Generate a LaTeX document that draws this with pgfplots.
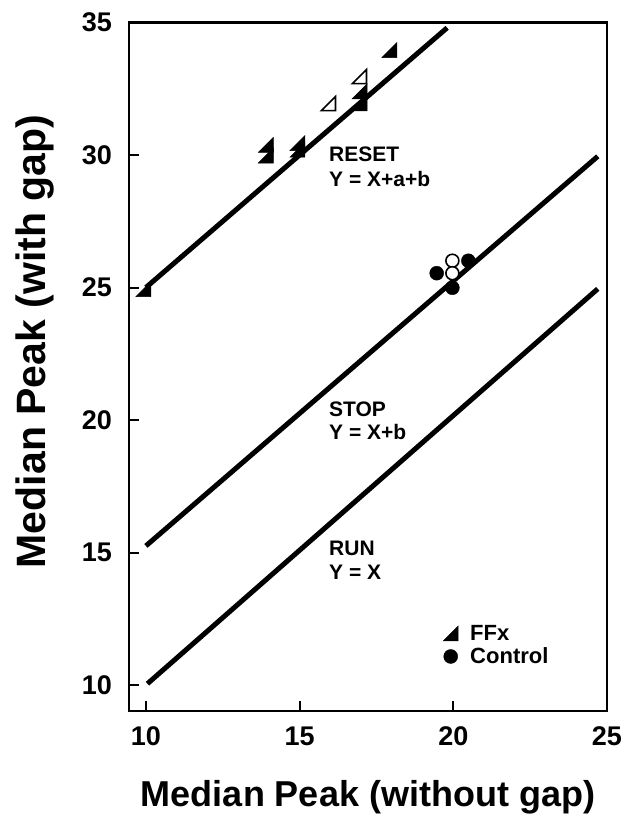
\documentclass[border=0pt]{standalone}
\usepackage{fontspec}
\setmainfont{Liberation Sans}
\usepackage{pgfplots}
\pgfplotsset{compat=1.18}
\pgfdeclareplotmark{rtri}{%
  \pgfpathmoveto{\pgfqpoint{-\pgfplotmarksize}{-\pgfplotmarksize}}%
  \pgfpathlineto{\pgfqpoint{\pgfplotmarksize}{-\pgfplotmarksize}}%
  \pgfpathlineto{\pgfqpoint{\pgfplotmarksize}{\pgfplotmarksize}}%
  \pgfpathclose\pgfusepathqfillstroke}
\begin{document}
\begin{tikzpicture}
\begin{axis}[
  scale only axis, width=478pt, height=688.5pt,
  xmin=9.45, xmax=25, ymin=9.02, ymax=35,
  xtick={10,15,20,25}, ytick={10,15,20,25,30,35},
  tick pos=left, tick align=inside,
  major tick length=10pt,
  every tick/.style={line width=2pt, black},
  axis line style={line width=2.5pt},
  /pgf/number format/assume math mode=true,
  xticklabel style={font=\fontsize{27}{27}\selectfont\bfseries, anchor=base, inner sep=0pt, yshift=-34pt},
  yticklabel style={font=\fontsize{27}{27}\selectfont\bfseries, anchor=east, inner sep=0pt, xshift=-17pt},
  xlabel={Median Peak (without gap)},
  ylabel={Median Peak (with gap)},
  xlabel style={font=\fontsize{36}{36}\selectfont\bfseries, at={(axis description cs:0.5,-0.138)}, anchor=base, inner sep=0pt},
  ylabel style={font=\fontsize{41}{41}\selectfont\bfseries, at={(axis description cs:-0.1757,0.5367)}, anchor=base, inner sep=0pt},
  legend style={draw=none, fill=none, at={(axis description cs:0.657,0.125)}, anchor=north west,
    font=\fontsize{22}{22}\selectfont\bfseries, inner sep=0pt, column sep=12pt, row sep=6pt,
    nodes={inner sep=0pt}},
  legend cell align=left,
  legend image code/.code={\draw[#1] plot coordinates {(0pt,0pt)};},
]
% reference lines
\addplot[black, line width=5pt, forget plot] coordinates {(10,25) (19.8,34.8)};
\addplot[black, line width=5pt, forget plot] coordinates {(10,15.25) (24.7,29.95)};
\addplot[black, line width=5pt, forget plot] coordinates {(10.05,10.05) (24.7,24.95)};
% FFx filled
\addplot[only marks, mark=rtri, mark size=7.5pt, mark options={fill=black, draw=black, line width=0.5pt}]
  coordinates {(9.92,24.94) (13.9,29.98) (13.9,30.38) (14.93,30.2) (14.93,30.45) (16.95,32.4) (16.95,31.95) (17.92,33.96)};
\addlegendentry{FFx}
% Control filled
\addplot[only marks, mark=*, mark size=7pt, mark options={fill=black, draw=black}]
  coordinates {(19.46,25.54) (20.49,26.01) (19.97,24.99)};
\addlegendentry{Control}
% FFx open
\addplot[only marks, mark=rtri, mark size=7pt, mark options={fill=white, draw=black, line width=1.6pt}, forget plot]
  coordinates {(15.94,31.94) (16.95,32.96)};
% Control open
\addplot[only marks, mark=*, mark size=6.5pt, mark options={fill=white, draw=black, line width=1.6pt}, forget plot]
  coordinates {(19.97,26.01) (19.97,25.54)};
% line labels
\node[anchor=base west, inner sep=0pt, font=\fontsize{21}{21}\selectfont\bfseries] at (axis cs:15.956,29.736) {RESET};
\node[anchor=base west, inner sep=0pt, font=\fontsize{21}{21}\selectfont\bfseries] at (axis cs:15.956,28.83) {Y = X+a+b};
\node[anchor=base west, inner sep=0pt, font=\fontsize{21}{21}\selectfont\bfseries] at (axis cs:15.956,20.15) {STOP};
\node[anchor=base west, inner sep=0pt, font=\fontsize{21}{21}\selectfont\bfseries] at (axis cs:15.956,19.25) {Y = X+b};
\node[anchor=base west, inner sep=0pt, font=\fontsize{21}{21}\selectfont\bfseries] at (axis cs:15.956,14.9) {RUN};
\node[anchor=base west, inner sep=0pt, font=\fontsize{21}{21}\selectfont\bfseries] at (axis cs:15.956,14.0) {Y = X};
\end{axis}
\pgfresetboundingbox
\path[use as bounding box] (-129pt,-114pt) rectangle (500pt,711pt);
\end{tikzpicture}
\end{document}
